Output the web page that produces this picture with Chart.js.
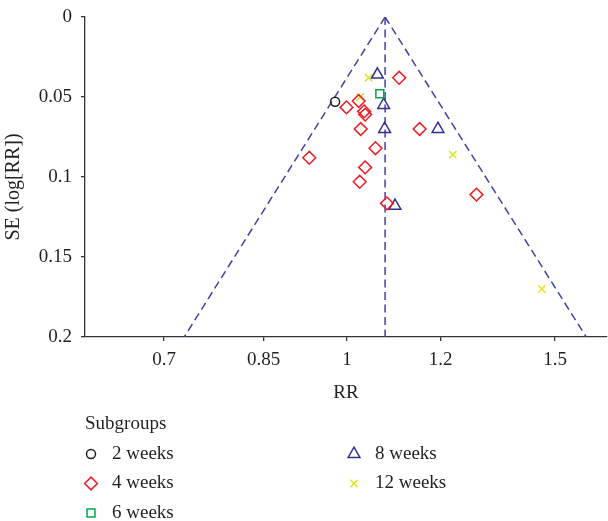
<!DOCTYPE html>
<html>
<head>
<meta charset="utf-8">
<script src="https://cdn.jsdelivr.net/npm/chart.js@4.4.0/dist/chart.umd.min.js"></script>
<style>
  html, body { margin: 0; padding: 0; background: #fff; overflow: hidden; }
</style>
</head>
<body>
<canvas id="funnel" width="608" height="521"></canvas>
<script>
// RR (x) and SE of log RR (y) per subgroup
const weeks2RR = [0.977];
const weeks2SE = [0.053];
const weeks4RR = [1.107, 0.999, 1.023, 1.034, 1.036, 1.027, 1.152, 1.057, 0.929, 1.036, 1.025, 1.081, 1.287];
const weeks4SE = [0.038, 0.0565, 0.0525, 0.059, 0.061, 0.070, 0.070, 0.082, 0.088, 0.094, 0.103, 0.1165, 0.111];
const weeks6RR = [1.066];
const weeks6SE = [0.048];
const weeks8RR = [1.061, 1.074, 1.076, 1.194, 1.098];
const weeks8SE = [0.036, 0.055, 0.070, 0.070, 0.118];
const weeks12RR = [1.043, 1.026, 1.229, 1.462];
const weeks12SE = [0.038, 0.050, 0.086, 0.170];

// pooled estimate line and funnel limits (apex at SE 0, ends at SE 0.2)
const funnelSE = [0, 0.2];
const pooledLineRR = [1.077, 1.077];
const funnelLeftRR = [1.077, 0.728];
const funnelRightRR = [1.077, 1.594];

const xTicks = [0.7, 0.85, 1, 1.2, 1.5];
const yTicks = [0, 0.05, 0.1, 0.15, 0.2];

const toPoints = (xs, ys) => xs.map((x, i) => ({ x: x, y: ys[i] }));

const textColor = '#231f20';
const axisColor = '#333333';
const lineColor = '#4242a4';
const serif = "'Liberation Serif', 'DejaVu Serif', serif";
const tickFont = { family: serif, size: 19 };

function markers(label, rr, se, style, color, radius) {
  return {
    label: label,
    data: toPoints(rr, se),
    pointStyle: style,
    pointRadius: radius,
    pointHoverRadius: radius,
    pointBorderWidth: 1.5,
    borderColor: color,
    backgroundColor: 'rgba(0,0,0,0)',
    showLine: false
  };
}

function dashed(label, rr) {
  return {
    label: label,
    data: toPoints(rr, funnelSE),
    showLine: true,
    borderColor: lineColor,
    borderWidth: 1.5,
    borderDash: [8, 4.5],
    pointRadius: 0,
    fill: false,
    isGuide: true
  };
}

// legend in two columns under the axis, plus the y axis title
const subgroupLegend = {
  id: 'subgroupLegend',
  afterDraw(chart) {
    const ctx = chart.ctx;
    ctx.save();
    ctx.fillStyle = textColor;
    ctx.font = '19px ' + serif;
    ctx.textBaseline = 'middle';
    ctx.textAlign = 'left';
    ctx.fillText('Subgroups', 85, 424);

    const items = chart.data.datasets.filter(d => !d.isGuide);
    items.forEach((d, i) => {
      const col = i < 3 ? 0 : 1;
      const row = i < 3 ? i : i - 3;
      const sx = col === 0 ? 91 : 354;
      const sy = 454 + row * 29.5;
      ctx.strokeStyle = d.borderColor;
      ctx.fillStyle = 'rgba(0,0,0,0)';
      ctx.lineWidth = 1.5;
      Chart.helpers.drawPoint(ctx, {
        pointStyle: d.pointStyle, radius: d.pointRadius, rotation: 0, borderWidth: 1.5
      }, sx, sy);
      ctx.fillStyle = textColor;
      ctx.fillText(d.label, sx + 21, sy);
    });

    ctx.translate(14, 187);
    ctx.rotate(-Math.PI / 2);
    ctx.textAlign = 'center';
    ctx.font = '20px ' + serif;
    ctx.fillText('SE (log[RR])', 0, 0);
    ctx.restore();
  }
};

new Chart(document.getElementById('funnel'), {
  type: 'scatter',
  data: {
    datasets: [
      markers('2 weeks', weeks2RR, weeks2SE, 'circle', '#231f20', 4.5),
      markers('4 weeks', weeks4RR, weeks4SE, 'rectRot', '#ec1c24', 6.4),
      markers('6 weeks', weeks6RR, weeks6SE, 'rect', '#00a651', 5.6),
      markers('8 weeks', weeks8RR, weeks8SE, 'triangle', '#2e3192', 6.8),
      markers('12 weeks', weeks12RR, weeks12SE, 'crossRot', '#e2e21e', 5.2),
      dashed('pooled', pooledLineRR),
      dashed('lower limit', funnelLeftRR),
      dashed('upper limit', funnelRightRR)
    ]
  },
  options: {
    responsive: false,
    animation: false,
    layout: { autoPadding: false, padding: { top: 17, right: 1, bottom: 117, left: 0 } },
    plugins: {
      legend: { display: false },
      tooltip: { enabled: false }
    },
    scales: {
      x: {
        type: 'logarithmic',
        min: 0.602,
        max: 1.66,
        afterBuildTicks: s => { s.ticks = xTicks.map(v => ({ value: v })); },
        afterFit: s => { s.height = 67; s.paddingLeft = 0; s.paddingRight = 0; },
        ticks: { callback: v => String(v), font: tickFont, color: textColor, padding: 8, maxRotation: 0, autoSkip: false },
        grid: { drawOnChartArea: false, tickLength: 4, color: axisColor, lineWidth: 1.3 },
        border: { color: axisColor, width: 1.3 },
        title: { display: true, text: 'RR', font: tickFont, color: textColor, padding: 0 }
      },
      y: {
        reverse: true,
        min: 0,
        max: 0.2,
        afterBuildTicks: s => { s.ticks = yTicks.map(v => ({ value: v })); },
        afterFit: s => { s.width = 85; s.paddingTop = 0; s.paddingBottom = 0; },
        ticks: { callback: v => String(v), font: tickFont, color: textColor, padding: 9 },
        grid: { drawOnChartArea: false, tickLength: 4, color: axisColor, lineWidth: 1.3 },
        border: { color: axisColor, width: 1.3 }
      }
    }
  },
  plugins: [subgroupLegend]
});
</script>
</body>
</html>
